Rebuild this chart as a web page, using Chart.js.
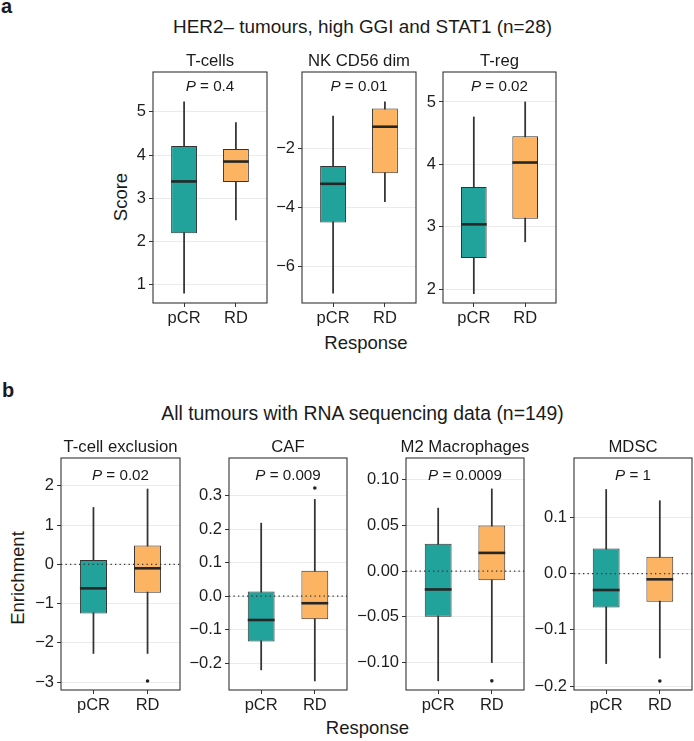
<!DOCTYPE html>
<html lang="en">
<head>
    <meta charset="UTF-8">
    <title>Immune scores by response</title>
    <script src="https://cdn.jsdelivr.net/npm/chart.js"></script>
    <style>
        body {
            margin: 0;
            background: #fff;
        }

        #fig {
            position: relative;
            width: 694px;
            height: 741px;
            overflow: hidden;
            background: #fff;
            font-family: "Liberation Sans", Arial, Helvetica, sans-serif;
            color: #1a1a1a;
        }

        #fig canvas {
            position: absolute;
        }

        .txt {
            position: absolute;
            white-space: nowrap;
            line-height: 1;
        }

        .tag {
            font-weight: bold;
            font-size: 20px;
        }

        .main {
            font-size: 19px;
            transform: translateX(-50%);
        }

        .axis {
            font-size: 18.5px;
            transform: translateX(-50%);
        }

        .ylab {
            font-size: 18.5px;
            transform: translate(-50%, -50%) rotate(-90deg);
        }
    </style>
</head>

<body>
    <div id="fig">
        <div class="txt tag" style="left:1px; top:-4px;">a</div>
        <div class="txt main" style="left:362.5px; top:18.3px; font-size:18.9px;">HER2– tumours, high GGI and STAT1 (n=28)</div>
        <div class="txt ylab" style="left:120.5px; top:196.7px;">Score</div>
        <div class="txt axis" style="left:366px; top:334.3px;">Response</div>

        <div class="txt tag" style="left:2px; top:380px;">b</div>
        <div class="txt main" style="left:362.5px; top:403.6px; font-size:19.4px;">All tumours with RNA sequencing data (n=149)</div>
        <div class="txt ylab" style="left:17.5px; top:578px;">Enrichment</div>
        <div class="txt axis" style="left:367.5px; top:719.3px;">Response</div>
    </div>
</body>

</html>
<script>
    // Groups on the x axis and their fill colours
    const groups = ['pCR', 'RD'];
    const groupColors = ['#21a39b', '#fdb462'];

    // Panel titles and Wilcoxon P values
    const panelNames = ['T-cells', 'NK CD56 dim', 'T-reg', 'T-cell exclusion', 'CAF', 'M2 Macrophages', 'MDSC'];
    const pValues = ['0.4', '0.01', '0.02', '0.02', '0.009', '0.0009', '1'];

    // Box stats per group: [lower whisker, Q1, median, Q3, upper whisker]
    const tcellsStats = [[0.81, 2.19, 3.39, 4.21, 5.23], [2.50, 3.38, 3.85, 4.14, 4.75]];
    const nkStats = [[-6.90, -4.51, -3.20, -2.60, -0.91], [-3.80, -2.84, -1.27, -0.65, -0.43]];
    const tregStats = [[1.93, 2.50, 3.04, 3.64, 4.76], [2.76, 3.13, 4.03, 4.45, 5.00]];
    const exclusionStats = [[-2.27, -1.25, -0.61, 0.11, 1.45], [-2.27, -0.72, -0.10, 0.48, 1.92]];
    const cafStats = [[-0.220, -0.135, -0.071, 0.014, 0.218], [-0.253, -0.069, -0.021, 0.076, 0.289]];
    const m2Stats = [[-0.120, -0.050, -0.020, 0.030, 0.069], [-0.100, -0.010, 0.020, 0.050, 0.090]];
    const mdscStats = [[-0.160, -0.060, -0.029, 0.045, 0.150], [-0.150, -0.050, -0.010, 0.030, 0.130]];

    // Outlying points per group: [pCR, RD]
    const noOutliers = [[], []];
    const exclusionOutliers = [[], [-2.97]];
    const cafOutliers = [[], [0.323]];
    const m2Outliers = [[], [-0.120]];
    const mdscOutliers = [[], [-0.191]];

    // Y tick values, decimals shown and axis limits
    const tcellsTicks = [1, 2, 3, 4, 5];
    const nkTicks = [-6, -4, -2];
    const tregTicks = [2, 3, 4, 5];
    const exclusionTicks = [-3, -2, -1, 0, 1, 2];
    const cafTicks = [-0.2, -0.1, 0, 0.1, 0.2, 0.3];
    const m2Ticks = [-0.10, -0.05, 0, 0.05, 0.10];
    const mdscTicks = [-0.2, -0.1, 0, 0.1];
    const tickDecimals = [0, 0, 0, 0, 1, 2, 1];
    const yMin = [0.58, -7.23, 1.78, -3.20, -0.280, -0.130, -0.207];
    const yMax = [5.92, 0.58, 5.48, 2.71, 0.4125, 0.1238, 0.206];

    const allStats = [tcellsStats, nkStats, tregStats, exclusionStats, cafStats, m2Stats, mdscStats];
    const allOutliers = [noOutliers, noOutliers, noOutliers, exclusionOutliers, cafOutliers, m2Outliers, mdscOutliers];
    const allTicks = [tcellsTicks, nkTicks, tregTicks, exclusionTicks, cafTicks, m2Ticks, mdscTicks];

    // Plot area of every panel on the page: left, top, right, bottom
    const plotRects = [
        [153, 72, 267, 303], [302, 72, 416, 303], [443, 72, 556, 303],
        [61, 458, 180, 690], [229, 458, 347, 690], [406, 458, 524, 690], [574, 458, 692, 690]
    ];

    const family = '"Liberation Sans", Arial, Helvetica, sans-serif';
    const AXIS_W = 60, TOP_PAD = 40, RIGHT_PAD = 8, X_H = 30, BOTTOM_PAD = 10;

    Chart.defaults.font.family = family;

    function fmtTick(v, dec) {
        const s = Math.abs(v).toFixed(dec);
        return (v < -1e-9 ? '\u2212' : '') + s;
    }

    // Draws medians, zero line, frame, strip title and P value
    const boxExtras = {
        id: 'boxExtras',
        afterDatasetsDraw(chart, args, opts) {
            const { ctx, chartArea: a, scales: { y } } = chart;
            const boxes = chart.getDatasetMeta(0).data;
            ctx.save();

            if (opts.zeroLine) {
                const zy = y.getPixelForValue(0);
                ctx.strokeStyle = '#333';
                ctx.lineWidth = 1.3;
                ctx.setLineDash([1.3, 3.2]);
                ctx.beginPath();
                ctx.moveTo(a.left, zy);
                ctx.lineTo(a.right, zy);
                ctx.stroke();
                ctx.setLineDash([]);
            }

            ctx.strokeStyle = '#262626';
            ctx.lineWidth = 2.6;
            opts.stats.forEach((s, i) => {
                const bar = boxes[i];
                const my = y.getPixelForValue(s[2]);
                ctx.beginPath();
                ctx.moveTo(bar.x - bar.width / 2, my);
                ctx.lineTo(bar.x + bar.width / 2, my);
                ctx.stroke();
            });

            ctx.strokeStyle = '#333';
            ctx.lineWidth = 1.1;
            ctx.strokeRect(a.left, a.top, a.right - a.left, a.bottom - a.top);

            const cx = (a.left + a.right) / 2;
            ctx.fillStyle = '#1a1a1a';
            ctx.textBaseline = 'alphabetic';
            ctx.textAlign = 'center';
            ctx.font = '16.7px ' + family;
            ctx.fillText(opts.title, cx, a.top - 6.5);

            ctx.textAlign = 'left';
            ctx.font = 'italic 15.2px ' + family;
            const wP = ctx.measureText('P').width;
            ctx.font = '15.2px ' + family;
            const rest = ' = ' + opts.p;
            const wR = ctx.measureText(rest).width;
            const x0 = cx - (wP + wR) / 2;
            const by = a.top + opts.pOffset;
            ctx.font = 'italic 15.2px ' + family;
            ctx.fillText('P', x0, by);
            ctx.font = '15.2px ' + family;
            ctx.fillText(rest, x0 + wP, by);

            ctx.restore();
        }
    };

    const fig = document.getElementById('fig');

    panelNames.forEach((name, p) => {
        const [L, T, R, B] = plotRects[p];
        const W = Math.round(R - L + AXIS_W + RIGHT_PAD);
        const H = Math.round(B - T + TOP_PAD + X_H + BOTTOM_PAD);
        const canvas = document.createElement('canvas');
        canvas.width = W;
        canvas.height = H;
        canvas.style.width = W + 'px';
        canvas.style.height = H + 'px';
        canvas.style.left = (L - AXIS_W) + 'px';
        canvas.style.top = (T - TOP_PAD) + 'px';
        fig.appendChild(canvas);

        const stats = allStats[p];
        const outPts = [];
        allOutliers[p].forEach((vals, g) => vals.forEach(v => outPts.push({ x: g + 1, y: v })));
        const ticks = allTicks[p];
        const partB = p >= 3;

        new Chart(canvas.getContext('2d'), {
            type: 'bar',
            data: {
                datasets: [{
                    // boxes (Q1 to Q3)
                    data: stats.map((s, g) => ({ x: g + 1, y: [s[1], s[3]] })),
                    backgroundColor: groupColors,
                    borderColor: '#333',
                    borderWidth: 1,
                    borderSkipped: false,
                    grouped: false,
                    categoryPercentage: 1,
                    barPercentage: 0.5
                }, {
                    // whiskers
                    data: stats.map((s, g) => ({ x: g + 1, y: [s[0], s[4]] })),
                    backgroundColor: '#333',
                    borderWidth: 0,
                    grouped: false,
                    barThickness: 1.1
                }, {
                    type: 'scatter',
                    data: outPts,
                    backgroundColor: '#222',
                    borderWidth: 0,
                    pointRadius: 1.8
                }]
            },
            options: {
                responsive: false,
                animation: false,
                events: [],
                layout: {
                    padding: { left: 0, top: TOP_PAD, right: RIGHT_PAD, bottom: BOTTOM_PAD }
                },
                plugins: {
                    legend: { display: false },
                    tooltip: { enabled: false },
                    boxExtras: {
                        stats: stats,
                        title: name,
                        p: pValues[p],
                        pOffset: partB ? 22 : 19,
                        zeroLine: partB
                    }
                },
                scales: {
                    x: {
                        type: 'linear',
                        min: 0.4,
                        max: 2.6,
                        offset: false,
                        afterBuildTicks: s => { s.ticks = groups.map((g, i) => ({ value: i + 1 })); },
                        afterFit: s => { s.height = X_H; },
                        ticks: {
                            callback: (v, i) => groups[i],
                            autoSkip: false,
                            maxRotation: 0,
                            padding: 2,
                            color: '#1e1e1e',
                            font: { size: 16.5 }
                        },
                        grid: {
                            drawOnChartArea: false,
                            offset: false,
                            tickLength: 4,
                            tickColor: '#333',
                            tickWidth: 1
                        },
                        border: { display: false }
                    },
                    y: {
                        type: 'linear',
                        min: yMin[p],
                        max: yMax[p],
                        afterBuildTicks: s => { s.ticks = ticks.map(v => ({ value: v })); },
                        afterFit: s => { s.width = AXIS_W; },
                        ticks: {
                            callback: (v, i) => fmtTick(ticks[i], tickDecimals[p]),
                            autoSkip: false,
                            padding: 3,
                            color: '#1e1e1e',
                            font: { size: 16.5 }
                        },
                        grid: {
                            color: '#ebebeb',
                            lineWidth: 1,
                            tickLength: 4,
                            tickColor: '#333',
                            tickWidth: 1
                        },
                        border: { display: false }
                    }
                }
            },
            plugins: [boxExtras]
        });
    });
</script>
